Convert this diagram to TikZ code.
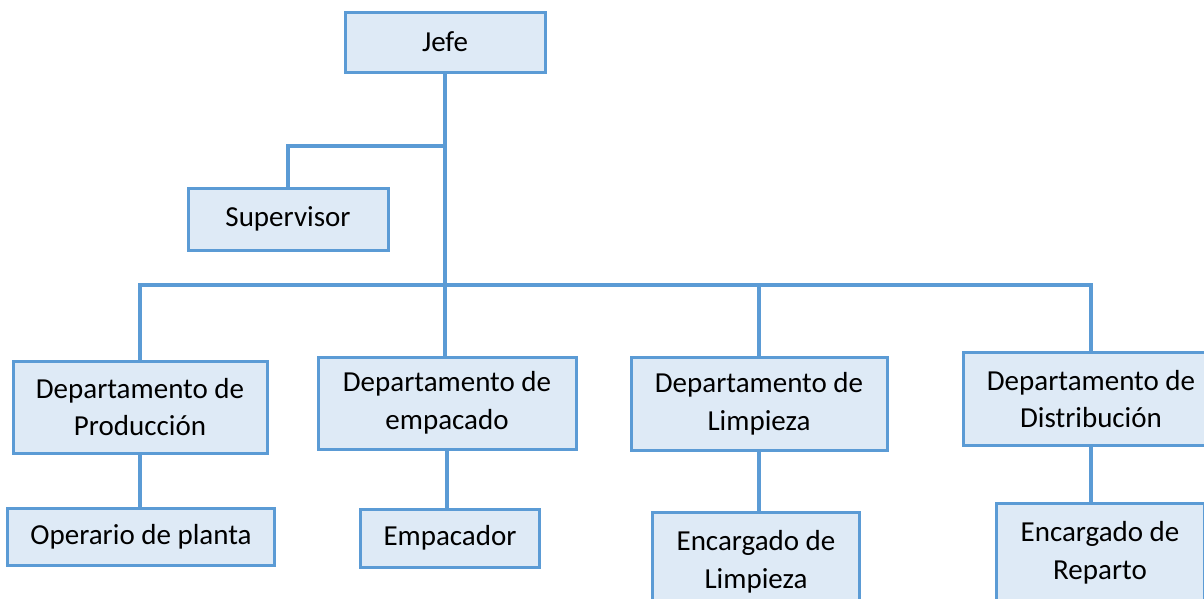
\documentclass[tikz,border=0pt]{standalone}
\usepackage{fontspec}
\setmainfont{Carlito}
\definecolor{linea}{RGB}{91,155,213}
\definecolor{relleno}{RGB}{222,234,246}
\begin{document}
\begin{tikzpicture}[x=1pt,y=-1pt,
        caja/.style={draw=linea, fill=relleno, line width=3pt, align=center,
            inner sep=0pt, font=\fontsize{29}{37.5}\selectfont},
        rama/.style={draw=linea, line width=4pt}]
    \useasboundingbox (0,0) rectangle (1204,598);
    \clip (0,0) rectangle (1204,598);

    \node[caja, minimum width=200pt, minimum height=60pt] (jefe) at (445,42) {Jefe};
    \node[caja, minimum width=200pt, minimum height=62pt] (sup) at (288,219) {Supervisor};

    \node[caja, minimum width=254pt, minimum height=92pt] (prod) at (140,407) {Departamento de\\Producción};
    \node[caja, minimum width=258pt, minimum height=92pt] (emp) at (447,403) {Departamento de\\empacado};
    \node[caja, minimum width=256pt, minimum height=93pt] (limp) at (759,404) {Departamento de\\Limpieza};
    \node[caja, minimum width=256pt, minimum height=93pt] (dist) at (1091,399) {Departamento de\\Distribución};

    \node[caja, minimum width=267pt, minimum height=57pt] (oper) at (141,537) {Operario de planta};
    \node[caja, minimum width=179pt, minimum height=58pt] (empr) at (450,538) {Empacador};
    \node[caja, minimum width=207pt, minimum height=100pt] (elimp) at (756,562) {Encargado de\\Limpieza};
    \node[caja, minimum width=208pt, minimum height=100pt] (erep) at (1100,553) {Encargado de\\Reparto};

    \coordinate (bus) at (445,285);
    \coordinate (supj) at (445,146);

    \draw[rama] (jefe.south) -- (jefe.south |- emp.north);
    \draw[rama] (supj) -| (sup.north);
    \draw[rama] (prod.north) -- (prod.north |- bus) -- (dist.north |- bus) -- (dist.north);
    \draw[rama] (limp.north) -- (limp.north |- bus);

    \draw[rama] (prod.south) -- (prod.south |- oper.north);
    \draw[rama] (emp.south) -- (emp.south |- empr.north);
    \draw[rama] (limp.south) -- (limp.south |- elimp.north);
    \draw[rama] (dist.south) -- (dist.south |- erep.north);
\end{tikzpicture}
\end{document}
